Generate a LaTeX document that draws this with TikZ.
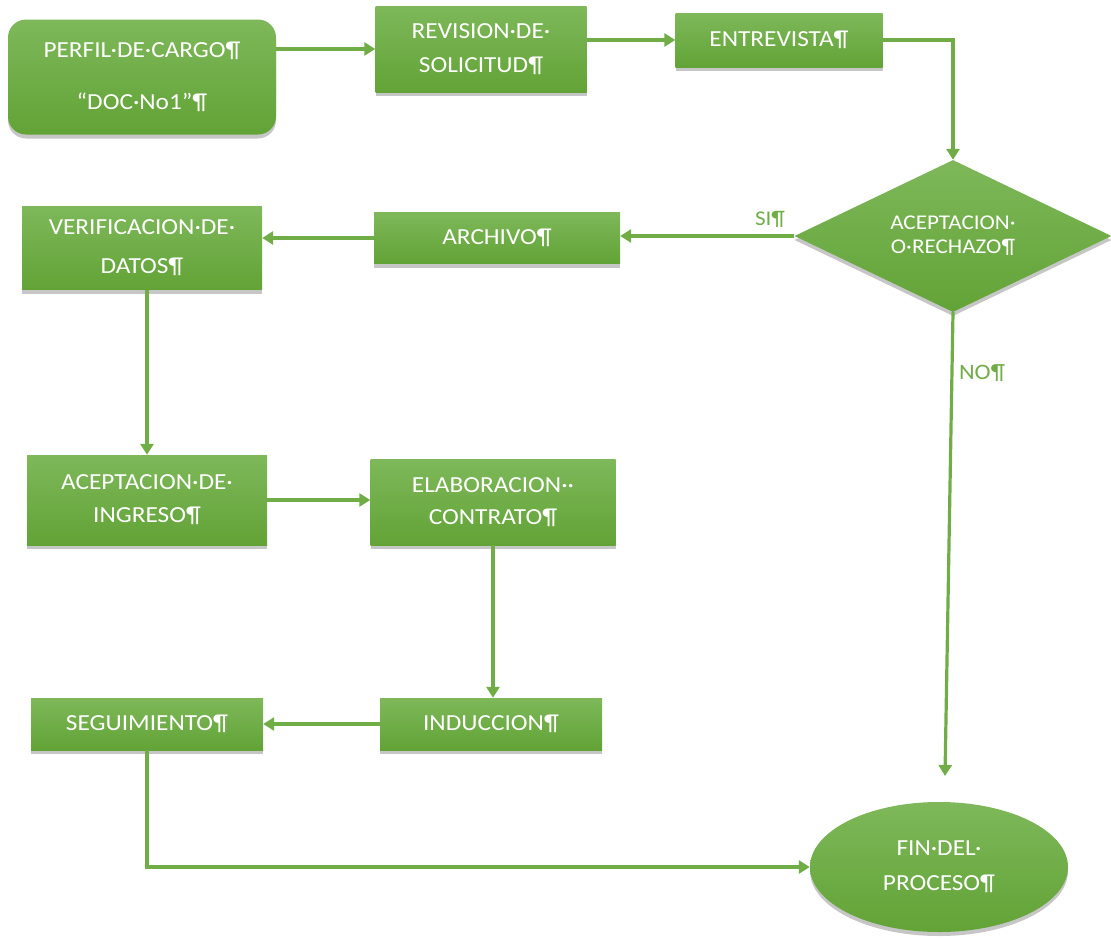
\documentclass[tikz,border=0pt]{standalone}
\usepackage{fontspec}
\setmainfont{Carlito}[FakeStretch=1.1]
\usetikzlibrary{shapes.geometric,shadows,arrows.meta}
\definecolor{gtop}{RGB}{126,184,90}
\definecolor{gbot}{RGB}{98,163,54}
\definecolor{gline}{RGB}{112,173,71}
\tikzset{
  box/.style={draw=none, top color=gtop, bottom color=gbot,
    drop shadow={opacity=0.45, shadow xshift=0pt, shadow yshift=-4pt},
    text=white, align=center, inner sep=0pt, font=\fontsize{23}{34}\selectfont},
  conn/.style={draw=gline, line width=3.2pt, -{Triangle[length=11pt,width=13pt]}},
  lbl/.style={text=gline, inner sep=0pt}
}
\begin{document}
\begin{tikzpicture}[x=1pt,y=-1pt]
\useasboundingbox (0,0) rectangle (1111,937);
\node[box, rounded corners=18pt, minimum width=268pt, minimum height=115pt] (perfil) at (142,77) {PERFIL·DE·CARGO¶\\[18pt]“DOC·No1”¶};
\node[box, minimum width=211pt, minimum height=86pt] (revision) at (481,49) {REVISION·DE·\\SOLICITUD¶};
\node[box, minimum width=207pt, minimum height=54pt] (entrevista) at (779,40) {ENTREVISTA¶};
\node[box, diamond, minimum width=317pt, minimum height=152pt, shape aspect=2, font=\fontsize{21}{24}\selectfont] (dec) at (953,236) {ACEPTACION·\\O·RECHAZO¶};
\node[box, minimum width=246pt, minimum height=51pt] (archivo) at (497,238) {ARCHIVO¶};
\node[box, minimum width=240pt, minimum height=83pt] (verif) at (142,248) {VERIFICACION·DE·\\[5pt]DATOS¶};
\node[box, minimum width=240pt, minimum height=90pt] (acept) at (147,500) {ACEPTACION·DE·\\[-1pt]INGRESO¶};
\node[box, minimum width=245pt, minimum height=86pt] (elab) at (493,502) {ELABORACION··\\[-2pt]CONTRATO¶};
\node[box, minimum width=222pt, minimum height=52pt] (induc) at (491,724) {INDUCCION¶};
\node[box, minimum width=232pt, minimum height=52pt] (seg) at (147,724) {SEGUIMIENTO¶};
\node[box, ellipse, minimum width=258pt, minimum height=130pt] (fin) at (939,867) {FIN·DEL·\\[1pt]PROCESO¶};
\coordinate (noend) at (945,776);
\draw[conn] (perfil.east |- revision.west) -- (revision.west);
\draw[conn] (revision.east |- entrevista.west) -- (entrevista.west);
\draw[conn] (entrevista.east) -| (dec.north);
\draw[conn] (dec.west) -- (archivo.east |- dec.west);
\node[lbl, font=\fontsize{21}{24}\selectfont] (si) at (770,219) {SI¶};
\draw[conn] (archivo.west) -- (verif.east |- archivo.west);
\draw[conn] (acept.north |- verif.south) -- (acept.north);
\draw[conn] (acept.east) -- (elab.west |- acept.east);
\draw[conn] (elab.south) -- (elab.south |- induc.north);
\draw[conn] (induc.west) -- (seg.east |- induc.west);
\draw[conn] (seg.south) |- (fin.west);
\draw[conn] (dec.south) -- (noend);
\node[lbl, font=\fontsize{22}{26}\selectfont] (no) at (982,373) {NO¶};
\end{tikzpicture}
\end{document}
